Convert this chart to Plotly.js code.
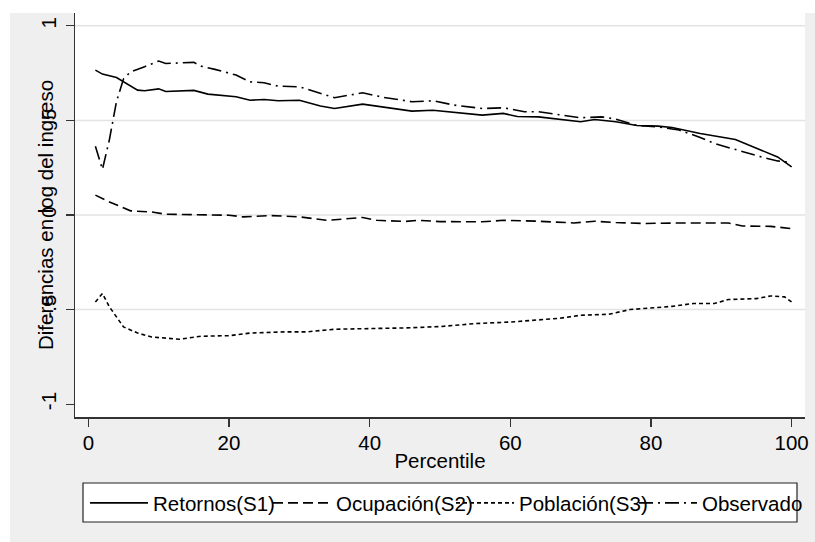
<!DOCTYPE html>
<html>
<head>
<meta charset="utf-8">
<script src="https://cdn.plot.ly/plotly-3.0.1.min.js"></script>
<style>html,body{margin:0;padding:0;background:#fff;}#chart{width:815px;height:542px;}</style>
</head>
<body>
<div id="chart"></div>
<script>
// Retornos (S1)
const retornosX = [1, 2, 4, 5, 7, 8, 10, 11, 15, 17, 21, 23, 25, 27, 30, 33, 35, 39, 42, 46, 49, 53, 56, 59, 61, 64, 67, 70, 72, 75, 78, 81, 83, 87, 92, 94, 96, 98, 100];
const retornosY = [0.766, 0.745, 0.727, 0.704, 0.660, 0.657, 0.667, 0.653, 0.659, 0.639, 0.625, 0.607, 0.611, 0.604, 0.607, 0.576, 0.563, 0.586, 0.569, 0.549, 0.554, 0.540, 0.528, 0.537, 0.521, 0.519, 0.507, 0.493, 0.505, 0.493, 0.473, 0.470, 0.463, 0.431, 0.399, 0.369, 0.339, 0.307, 0.254];
// Ocupación (S2)
const ocupacionX = [1, 3, 6, 9, 11, 16, 20, 22, 26, 30, 34, 39, 41, 45, 47, 50, 56, 59, 64, 69, 72, 75, 79, 84, 91, 93, 97, 100];
const ocupacionY = [0.105, 0.069, 0.022, 0.016, 0.004, 0.003, -0.001, -0.010, -0.003, -0.010, -0.028, -0.013, -0.028, -0.034, -0.028, -0.035, -0.036, -0.028, -0.033, -0.042, -0.033, -0.040, -0.045, -0.042, -0.042, -0.058, -0.060, -0.072];
// Población (S3)
const poblacionX = [1, 2, 3, 5, 7, 9, 13, 16, 20, 23, 28, 31, 35, 40, 45, 50, 55, 60, 64, 67, 70, 74, 77, 83, 86, 89, 91, 95, 97, 99, 100];
const poblacionY = [-0.460, -0.415, -0.486, -0.592, -0.624, -0.645, -0.657, -0.641, -0.638, -0.624, -0.618, -0.618, -0.604, -0.602, -0.597, -0.590, -0.574, -0.566, -0.553, -0.546, -0.530, -0.525, -0.500, -0.483, -0.468, -0.468, -0.447, -0.442, -0.428, -0.433, -0.460];
// Observado
const observadoX = [1, 2, 3, 4, 5, 6, 8, 10, 11, 15, 16, 18, 21, 23, 25, 27, 30, 33, 35, 39, 42, 46, 49, 52, 56, 59, 62, 64, 67, 70, 73, 75, 78, 81, 84, 87, 89, 93, 96, 98, 100];
const observadoY = [0.364, 0.241, 0.40, 0.60, 0.72, 0.757, 0.784, 0.814, 0.801, 0.807, 0.787, 0.770, 0.740, 0.704, 0.699, 0.681, 0.678, 0.643, 0.620, 0.646, 0.622, 0.599, 0.604, 0.581, 0.563, 0.567, 0.546, 0.546, 0.530, 0.514, 0.519, 0.507, 0.473, 0.466, 0.449, 0.410, 0.378, 0.334, 0.304, 0.286, 0.276];

const seriesNames = ['Retornos(S1)', 'Ocupación(S2)', 'Población(S3)', 'Observado'];
const yTickVals = [-1, -0.5, 0, 0.5, 1];
const yTickText = ['-1', '-.5', '0', '.5', '1'];
const xTickVals = [0, 20, 40, 60, 80, 100];
const gridVals = [-0.5, 0, 0.5, 1];

const FONT = 'Liberation Sans, Arial, sans-serif';
const FS = 20.5;
const lw = 1.6;
const traces = [
  {x: retornosX, y: retornosY, name: seriesNames[0], mode: 'lines', line: {color: '#000', width: lw, dash: 'solid'}},
  {x: ocupacionX, y: ocupacionY, name: seriesNames[1], mode: 'lines', line: {color: '#000', width: lw, dash: '10px,5px'}},
  {x: poblacionX, y: poblacionY, name: seriesNames[2], mode: 'lines', line: {color: '#000', width: lw, dash: '4px,3px'}},
  {x: observadoX, y: observadoY, name: seriesNames[3], mode: 'lines', line: {color: '#000', width: lw, dash: '14px,5px,2px,5px'}}
];

const W = 815, H = 542, mL = 75, mR = 10, mT = 13, mB = 125;
const pw = W - mL - mR, ph = H - mT - mB;
const px = v => (v - mL) / pw;           // pixel x -> paper
const py = v => (H - mB - v) / ph;       // pixel y -> paper

const shapes = [];
// white outer strips (top and left)
shapes.push({type: 'rect', xref: 'paper', yref: 'paper', x0: px(-5), x1: px(10), y0: py(H + 5), y1: py(-5), fillcolor: '#fff', line: {width: 0}, layer: 'below'});
shapes.push({type: 'rect', xref: 'paper', yref: 'paper', x0: px(-5), x1: px(W + 5), y0: py(13), y1: py(-5), fillcolor: '#fff', line: {width: 0}, layer: 'below'});
// legend box
shapes.push({type: 'rect', xref: 'paper', yref: 'paper', x0: px(83), x1: px(797), y0: py(522), y1: py(483), fillcolor: '#fff', line: {color: '#222', width: 1.2}, layer: 'below'});
// grid lines
gridVals.forEach(g => shapes.push({type: 'line', xref: 'paper', yref: 'y', x0: 0, x1: 1, y0: g, y1: g, line: {color: '#e3e3e3', width: 1.5}, layer: 'below'}));

const layout = {
  width: W, height: H,
  margin: {l: mL, r: mR, t: mT, b: mB, pad: 0, autoexpand: false},
  paper_bgcolor: '#efefef',
  plot_bgcolor: '#ffffff',
  font: {family: FONT, size: FS, color: '#000'},
  showlegend: true,
  legend: {
    orientation: 'h', x: px(85), xanchor: 'left', y: py(483), yanchor: 'top',
    bgcolor: 'rgba(0,0,0,0)', borderwidth: 0,
    font: {family: FONT, size: FS, color: '#000'},
    itemwidth: 58, entrywidth: 110, traceorder: 'normal'
  },
  xaxis: {
    range: [-1.9, 101.9], tickvals: xTickVals, ticks: 'outside', ticklen: 8, tickwidth: 1.2, tickcolor: '#333',
    showline: true, linecolor: '#333', linewidth: 1.5, showgrid: false, zeroline: false, automargin: false,
    tickfont: {family: FONT, size: FS}, ticklabelstandoff: -1,
    title: {text: 'Percentile', font: {family: FONT, size: FS}, standoff: 0}
  },
  yaxis: {
    range: [-1.068, 1.068], tickvals: yTickVals, ticktext: yTickText, tickangle: -90,
    ticks: 'outside', ticklen: 8, tickwidth: 1.2, tickcolor: '#333',
    showline: true, linecolor: '#333', linewidth: 1.5, showgrid: false, zeroline: false, automargin: false,
    tickfont: {family: FONT, size: FS}, ticklabelstandoff: 1
  },
  shapes: shapes,
  annotations: [{
    text: 'Diferencias en log del ingreso', xref: 'paper', yref: 'paper', x: px(45), y: 0.5,
    xanchor: 'center', yanchor: 'middle', textangle: -90, showarrow: false,
    font: {family: FONT, size: FS, color: '#000'}
  }]
};

Plotly.newPlot('chart', traces, layout, {displayModeBar: false, staticPlot: true});
</script>
</body>
</html>
